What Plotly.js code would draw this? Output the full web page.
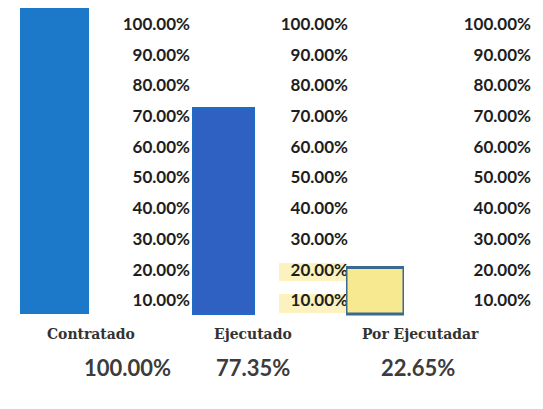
<!DOCTYPE html>
<html>
<head>
<meta charset="utf-8">
<script src="https://cdn.plot.ly/plotly-3.0.1.min.js"></script>
<style>html,body{margin:0;padding:0;background:#fff}#chart{width:543px;height:409px}</style>
</head>
<body>
<div id="chart"></div>
<script>
// Categories and values
const categories = ["Contratado", "Ejecutado", "Por Ejecutadar"];
const shownPct = ["100.00%", "77.35%", "22.65%"];
// Bar heights as drawn in the picture (relative to Contratado = 100)
const drawnHeight = [100, 67.3, 15.2];
// Tick labels of the three label columns
const tickVals = [10, 20, 30, 40, 50, 60, 70, 80, 90, 100];
const tickText = ["10.00%", "20.00%", "30.00%", "40.00%", "50.00%", "60.00%", "70.00%", "80.00%", "90.00%", "100.00%"];

const fills = ["#1c79c9", "#2f61c2", "#f7e98f"];
const borders = ["#1c79c9", "#1e6cc4", "#3a6a8f"];
const borderW = [0, 2, 3];
const xAxes = ["x", "x2", "x3"];

const W = 543, H = 409;
const traces = [];
for (let i = 0; i < categories.length; i++) {
  traces.push({
    type: "bar", x: [0], y: [drawnHeight[i]], width: [1],
    xaxis: xAxes[i], yaxis: "y",
    marker: {color: fills[i], line: {color: borders[i], width: borderW[i]}},
    hoverinfo: "skip", showlegend: false
  });
}
["y2", "y3", "y4"].forEach(function (ya) {
  traces.push({type: "scatter", x: [null], y: [null], xaxis: "x", yaxis: ya, showlegend: false, hoverinfo: "skip"});
});

const tickFont = {family: "Lato, 'Open Sans', sans-serif", size: 17, color: "#1e1e1e", weight: "bold"};
function labelAxis(rightEdgePx) {
  return {
    overlaying: "y", anchor: "free", side: "left", position: (rightEdgePx + 3) / W,
    range: [-25.4, 107.8], tickmode: "array", tickvals: tickVals, ticktext: tickText,
    showgrid: false, zeroline: false, showline: false, ticks: "", tickfont: tickFont, fixedrange: true
  };
}
function barX(l, r) {
  return {domain: [l / W, r / W], range: [-0.5, 0.5], visible: false, anchor: "y", fixedrange: true};
}

const annotations = [];
const catX = [91, 253, 420];
const pctX = [127, 253, 418];
for (let i = 0; i < categories.length; i++) {
  annotations.push({xref: "paper", yref: "paper", x: catX[i] / W, y: 1 - 333 / H, text: "<b>" + categories[i] + "</b>",
    showarrow: false, xanchor: "center", yanchor: "middle",
    font: {family: "'DejaVu Serif Condensed', 'Liberation Serif', serif", size: 15.5, color: "#333333"}});
  annotations.push({xref: "paper", yref: "paper", x: pctX[i] / W, y: 1 - 367 / H, text: shownPct[i],
    showarrow: false, xanchor: "center", yanchor: "middle",
    font: {family: "Lato, 'Open Sans', sans-serif", size: 22, color: "#3c3c3c", weight: "bold"}});
}

const layout = {
  width: W, height: H, margin: {l: 0, r: 0, t: 0, b: 0},
  paper_bgcolor: "#ffffff", plot_bgcolor: "rgba(0,0,0,0)",
  showlegend: false, bargap: 0,
  xaxis: barX(20, 89), xaxis2: barX(192, 255), xaxis3: barX(346, 404),
  yaxis: {domain: [0, 1], range: [-31.05, 102.61], visible: false, fixedrange: true},
  yaxis2: labelAxis(187), yaxis3: labelAxis(345), yaxis4: labelAxis(528),
  annotations: annotations,
  shapes: [
    {type: "rect", xref: "paper", yref: "paper", layer: "below", x0: 279 / W, x1: 347 / W, y0: 1 - 281 / H, y1: 1 - 263 / H, fillcolor: "#fbf2bf", line: {width: 0}},
    {type: "rect", xref: "paper", yref: "paper", layer: "below", x0: 279 / W, x1: 347 / W, y0: 1 - 313 / H, y1: 1 - 294 / H, fillcolor: "#fbf2bf", line: {width: 0}}
  ]
};
Plotly.newPlot("chart", traces, layout, {staticPlot: true, displayModeBar: false});
</script>
</body>
</html>
